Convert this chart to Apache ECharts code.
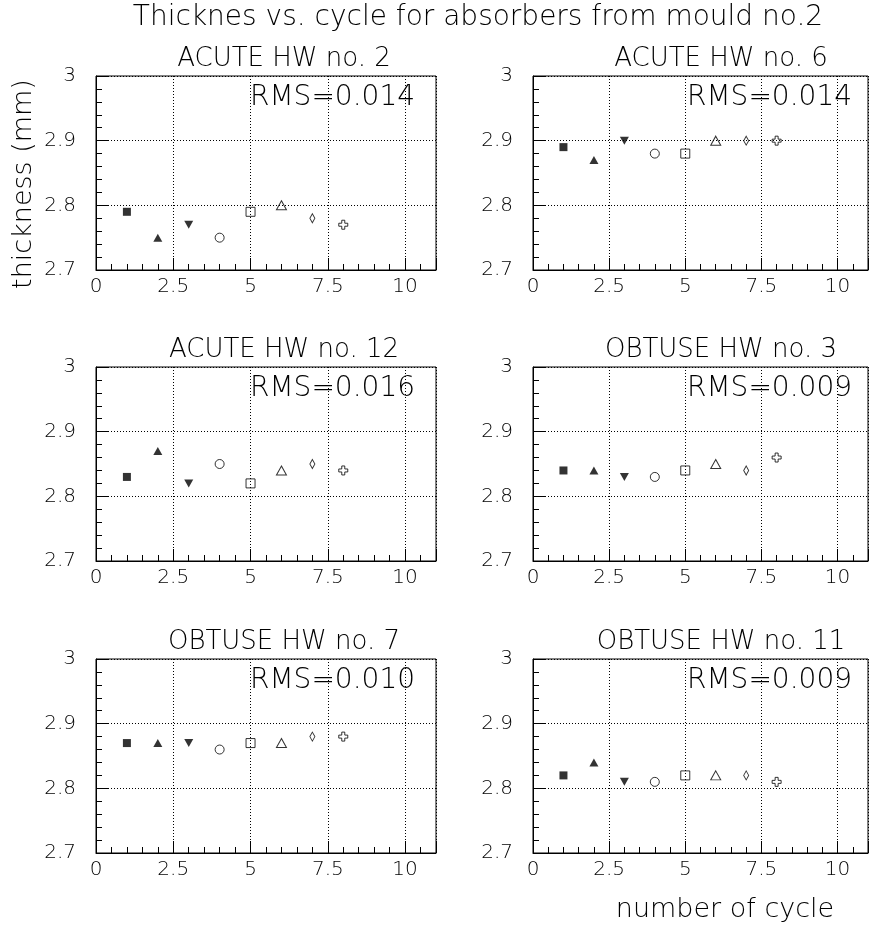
<!DOCTYPE html>
<html>
<head>
<meta charset="utf-8">
<script src="https://cdn.jsdelivr.net/npm/echarts@6/dist/echarts.min.js"></script>
<style>
  html, body { margin: 0; padding: 0; background: #fff; }
  #chart { width: 871px; height: 929px; }
</style>
</head>
<body>
<div id="chart"></div>
<script>
// Absorber thickness (mm) measured at each cycle, one array per half-wheel
const cycles = [1, 2, 3, 4, 5, 6, 7, 8];
const acuteHW2   = [2.79, 2.75, 2.77, 2.75, 2.79, 2.80, 2.78, 2.77];
const acuteHW6   = [2.89, 2.87, 2.90, 2.88, 2.88, 2.90, 2.90, 2.90];
const acuteHW12  = [2.83, 2.87, 2.82, 2.85, 2.82, 2.84, 2.85, 2.84];
const obtuseHW3  = [2.84, 2.84, 2.83, 2.83, 2.84, 2.85, 2.84, 2.86];
const obtuseHW7  = [2.87, 2.87, 2.87, 2.86, 2.87, 2.87, 2.88, 2.88];
const obtuseHW11 = [2.82, 2.84, 2.81, 2.81, 2.82, 2.82, 2.82, 2.81];

const panelTitles = ['ACUTE HW no. 2', 'ACUTE HW no. 6', 'ACUTE HW no. 12',
                     'OBTUSE HW no. 3', 'OBTUSE HW no. 7', 'OBTUSE HW no. 11'];
const rmsLabels = ['RMS=0.014', 'RMS=0.014', 'RMS=0.016', 'RMS=0.009', 'RMS=0.010', 'RMS=0.009'];

const xTicks = [0, 2.5, 5, 7.5, 10];
const xTickLabels = ['0', '2.5', '5', '7.5', '10'];
const yTicks = [2.7, 2.8, 2.9, 3.0];
const yTickLabels = ['2.7', '2.8', '2.9', '3'];

const panelValues = [acuteHW2, acuteHW6, acuteHW12, obtuseHW3, obtuseHW7, obtuseHW11];

// Page layout
const FONT = '"DejaVu Sans", "Liberation Sans", sans-serif';
const INK = '#000';
const colLeft = [96, 533];
const rowTop = [76, 367, 659];
const plotW = 340, plotH = 194;

// One marker style per cycle
const PLUS = 'path://M3,0 L6,0 L6,3 L9,3 L9,6 L6,6 L6,9 L3,9 L3,6 L0,6 L0,3 L3,3 Z';
const filled = { color: '#000' };
const open = { color: 'rgba(0,0,0,0)', borderColor: '#000', borderWidth: 1 };
const markers = [
  { symbol: 'rect', symbolSize: 8, itemStyle: filled },
  { symbol: 'triangle', symbolSize: [9, 8], itemStyle: filled },
  { symbol: 'triangle', symbolSize: [9, 8], symbolRotate: 180, itemStyle: filled },
  { symbol: 'circle', symbolSize: 9, itemStyle: open },
  { symbol: 'rect', symbolSize: 9, itemStyle: open },
  { symbol: 'triangle', symbolSize: [10, 9], itemStyle: open },
  { symbol: 'diamond', symbolSize: [5, 9], itemStyle: open },
  { symbol: PLUS, symbolSize: [9, 9], itemStyle: open }
];

const labelFor = (ticks, labels) => v => {
  const i = ticks.findIndex(t => Math.abs(t - v) < 1e-9);
  return i >= 0 ? labels[i] : '';
};

const grid = [], xAxis = [], yAxis = [], series = [], graphic = [];
const dotted = { color: '#000', width: 1, type: [1, 2] };
const textStyle = { color: INK, fontFamily: FONT, fontSize: 20, fontWeight: 300 };

panelValues.forEach((vals, g) => {
  const left = colLeft[g % 2];
  const top = rowTop[Math.floor(g / 2)];
  grid.push({ left, top, width: plotW, height: plotH, show: true,
              borderColor: '#000', borderWidth: 1, backgroundColor: 'transparent' });

  // fine ticks every 0.5 carry the labels
  xAxis.push({
    gridIndex: g, type: 'value', min: 0, max: 11, interval: 0.5, position: 'bottom',
    axisLine: { show: true, onZero: false, lineStyle: { color: '#000', width: 1 } },
    axisTick: { show: true, inside: true, length: 6, lineStyle: { color: '#000' } },
    axisLabel: { show: true, margin: 7, formatter: labelFor(xTicks, xTickLabels), ...textStyle },
    splitLine: { show: false }
  });
  // major ticks and dotted grid every 2.5
  xAxis.push({
    gridIndex: g, type: 'value', min: 0, max: 11, interval: 2.5, position: 'bottom',
    axisLine: { show: false, onZero: false },
    axisTick: { show: true, inside: true, length: 12, lineStyle: { color: '#000' } },
    axisLabel: { show: false },
    splitLine: { show: true, lineStyle: dotted }
  });
  yAxis.push({
    gridIndex: g, type: 'value', min: 2.7, max: 3.0, interval: 0.1,
    axisLine: { show: true, onZero: false, lineStyle: { color: '#000', width: 1 } },
    axisTick: { show: true, inside: true, length: 12, lineStyle: { color: '#000' } },
    minorTick: { show: true, splitNumber: 5, length: 6, lineStyle: { color: '#000' } },
    axisLabel: { show: true, margin: 20, formatter: labelFor(yTicks, yTickLabels), ...textStyle },
    splitLine: { show: true, lineStyle: dotted }
  });

  series.push({
    type: 'scatter', xAxisIndex: 2 * g, yAxisIndex: g, z: 5,
    data: cycles.map((c, i) => Object.assign({ value: [c, vals[i]] }, markers[i]))
  });

  graphic.push({
    type: 'text', x: left + 188, y: top - 17,
    style: { text: panelTitles[g], font: `300 26px ${FONT}`, fill: INK,
             textAlign: 'center', textVerticalAlign: 'middle' }
  });
  graphic.push({
    type: 'text', x: left + 154, y: top + 22, z: 10,
    style: { text: rmsLabels[g], font: `300 28px ${FONT}`, fill: INK,
             textAlign: 'left', textVerticalAlign: 'middle' }
  });
});

graphic.push({
  type: 'text', x: 478, y: 18,
  style: { text: 'Thicknes vs. cycle for absorbers from mould no.2', font: `300 28px ${FONT}`,
           fill: INK, textAlign: 'center', textVerticalAlign: 'middle' }
});
graphic.push({
  type: 'text', x: 24, y: 184, rotation: Math.PI / 2,
  style: { text: 'thickness (mm)', font: `300 27px ${FONT}`, fill: INK,
           textAlign: 'center', textVerticalAlign: 'middle' }
});
graphic.push({
  type: 'text', x: 725, y: 910,
  style: { text: 'number of cycle', font: `300 27px ${FONT}`, fill: INK,
           textAlign: 'center', textVerticalAlign: 'middle' }
});

const chart = echarts.init(document.getElementById('chart'), null, { renderer: 'canvas' });
chart.setOption({
  animation: false,
  backgroundColor: '#fff',
  grid, xAxis, yAxis, series, graphic
});
</script>
</body>
</html>
